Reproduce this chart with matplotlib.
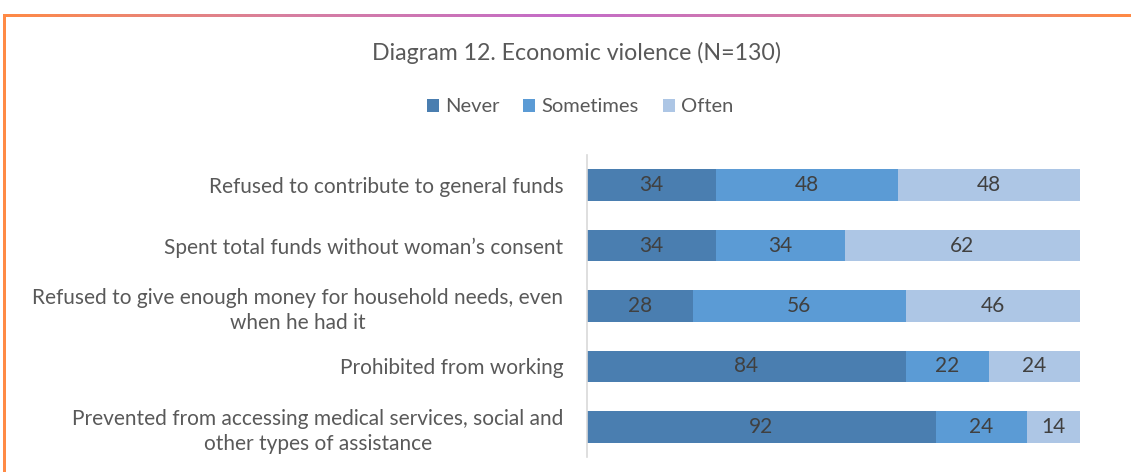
import matplotlib
matplotlib.use("Agg")
import matplotlib.pyplot as plt
import numpy as np
from matplotlib.colors import LinearSegmentedColormap

plt.rcParams['font.family'] = ['Lato', 'DejaVu Sans']

categories = [
    "Refused to contribute to general funds",
    "Spent total funds without woman\u2019s consent",
    "Refused to give enough money for household needs, even\nwhen he had it",
    "Prohibited from working",
    "Prevented from accessing medical services, social and\nother types of assistance",
]
never = [34, 34, 28, 84, 92]
sometimes = [48, 34, 56, 22, 24]
often = [48, 62, 46, 24, 14]
series_names = ["Never", "Sometimes", "Often"]
colors = ["#4A7EB0", "#5B9BD5", "#ADC6E5"]

W, H = 1131, 472
fig = plt.figure(figsize=(W / 100, H / 100), dpi=100)
fig.patch.set_facecolor("white")

# Frame: gradient rule along the top, orange rule down the left
top = fig.add_axes([3 / W, 1 - 17 / H, 1 - 3 / W, 3 / H])
cmap = LinearSegmentedColormap.from_list(
    "rule", ["#FF8A45", "#D77FA0", "#C36CC9", "#D77FA0", "#FF8A45"])
top.imshow(np.linspace(0, 1, 512)[None, :], aspect="auto", cmap=cmap)
top.axis("off")
left = fig.add_axes([3 / W, 0, 3 / W, 1 - 14 / H])
left.set_facecolor("#FF8A45")
left.set_xticks([]); left.set_yticks([])
for s in left.spines.values():
    s.set_visible(False)

ax = fig.add_axes([587 / W, 1 - 457 / H, (1080 - 587) / W, (457 - 155) / H])
y = np.arange(len(categories))
lefts = np.zeros(len(categories))
for name, vals, col in zip(series_names, [never, sometimes, often], colors):
    bars = ax.barh(y, vals, left=lefts, height=0.52, color=col, label=name,
                   edgecolor="none")
    ax.bar_label(bars, labels=[str(v) for v in vals], label_type="center",
                 fontsize=15, color="#404040")
    lefts = lefts + np.array(vals)

ax.set_xlim(0, 130)
ax.set_ylim(len(categories) - 0.5, -0.5)
ax.set_yticks(y)
ax.set_yticklabels(categories, fontsize=15, color="#595959",
                   multialignment="center", linespacing=1.3)
ax.tick_params(axis="y", length=0, pad=17)
ax.set_xticks([])
for k in ["top", "right", "bottom"]:
    ax.spines[k].set_visible(False)
ax.spines["left"].set_color("#D9D9D9")
ax.spines["left"].set_linewidth(1.2)

fig.text(577 / W, 1 - 53 / H, "Diagram 12. Economic violence (N=130)",
         ha="center", va="center", fontsize=16.7, color="#595959")
fig.legend(loc="center", bbox_to_anchor=(580 / W, 1 - 107 / H), ncol=3,
           frameon=False, fontsize=14.5, labelcolor="#595959",
           handlelength=0.6, handleheight=0.6, handletextpad=0.3,
           columnspacing=1.2)

fig.savefig("out.png", dpi=100, facecolor="white")
